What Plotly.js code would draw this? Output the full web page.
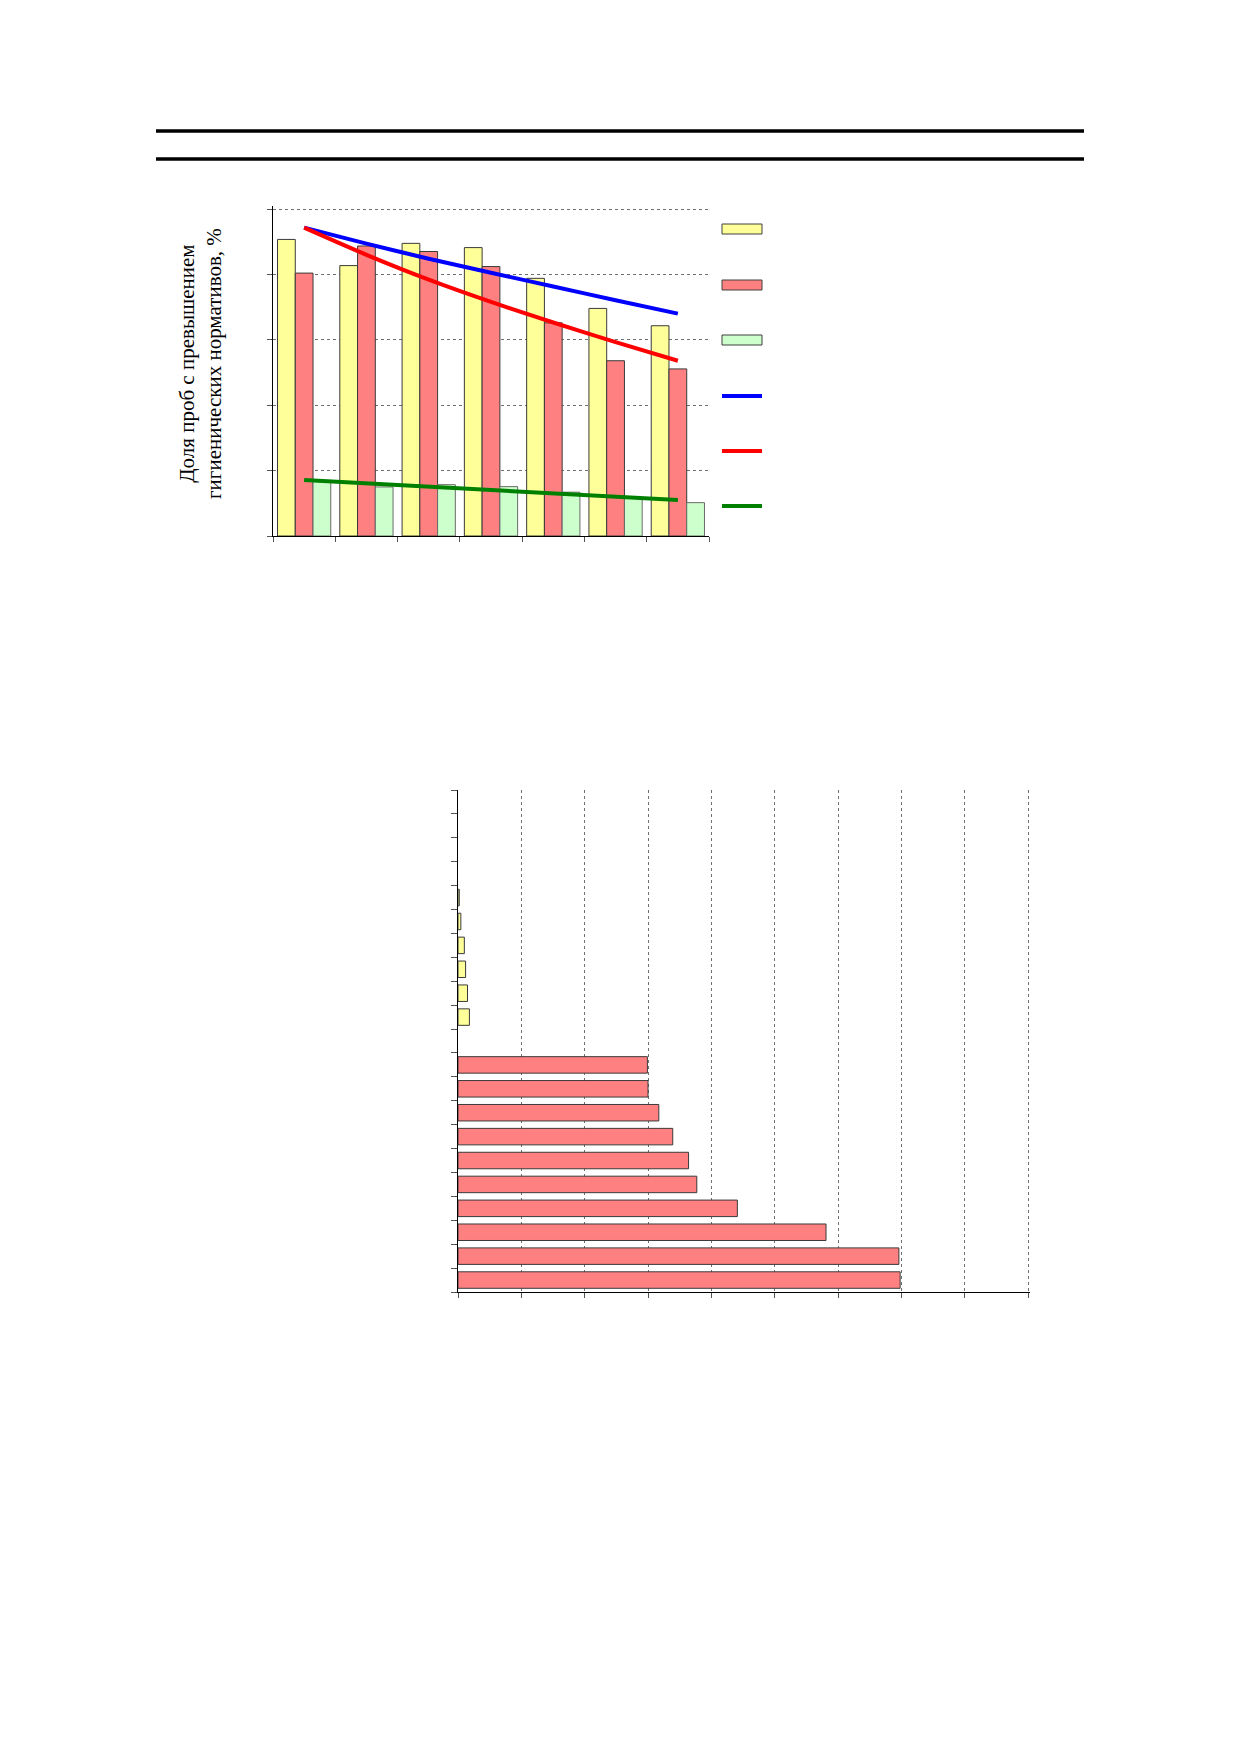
<!DOCTYPE html>
<html>
<head>
<meta charset="utf-8">
<script src="https://cdn.plot.ly/plotly-3.0.1.min.js"></script>
<style>
  html, body { margin: 0; padding: 0; background: #fff; }
  #page { width: 1239px; height: 1752px; }
</style>
</head>
<body>
<div id="page"></div>
<script>
// Chart 1: share of samples over the hygienic norms, 7 periods, 3 groups of samples
var groups = ['1', '2', '3', '4', '5', '6', '7'];
var yellowShare = [90.7, 82.7, 89.5, 88.2, 78.8, 69.6, 64.3];
var redShare = [80.4, 88.7, 87.0, 82.4, 65.2, 53.6, 51.1];
var greenShare = [17.0, 15.0, 15.7, 15.1, 13.4, 11.7, 10.2];
// trend lines at each period
var blueTrend = [94.3, 89.4, 84.8, 80.5, 76.3, 72.1, 68.0];
var redTrend = [94.3, 86.0, 78.4, 71.6, 65.3, 59.3, 53.6];
var greenTrend = [17.1, 16.1, 15.1, 14.1, 13.0, 12.0, 11.0];

// Chart 2: horizontal bars, rows listed from bottom to top
var rows = ['r1', 'r2', 'r3', 'r4', 'r5', 'r6', 'r7', 'r8', 'r9', 'r10', 'r11',
            'r12', 'r13', 'r14', 'r15', 'r16', 'r17', 'r18', 'r19', 'r20', 'r21'];
var redRows = ['r1', 'r2', 'r3', 'r4', 'r5', 'r6', 'r7', 'r8', 'r9', 'r10'];
var redLen = [69.8, 69.6, 58.1, 44.1, 37.7, 36.4, 33.9, 31.7, 30.0, 29.9];
var yellowRows = ['r12', 'r13', 'r14', 'r15', 'r16', 'r17'];
var yellowLen = [1.8, 1.5, 1.2, 1.0, 0.45, 0.2];

var W = 1239, H = 1752;
function px(x) { return x / W; }
function py(y) { return 1 - y / H; }

var YELLOW = '#FFFF99', RED = '#FF8080', GREEN = '#CCFFCC';
var edge = { color: '#3a3a3a', width: 1 };

var traces = [
    { type: 'bar', x: groups, y: yellowShare, marker: { color: YELLOW, line: edge }, xaxis: 'x', yaxis: 'y' },
    { type: 'bar', x: groups, y: redShare, marker: { color: RED, line: edge }, xaxis: 'x', yaxis: 'y' },
    { type: 'bar', x: groups, y: greenShare, marker: { color: GREEN, line: { color: '#6a6a6a', width: 1 } }, xaxis: 'x', yaxis: 'y' },
    { type: 'scatter', mode: 'lines', x: groups, y: blueTrend, line: { color: '#0000FF', width: 4, shape: 'spline', smoothing: 0.8 }, xaxis: 'x', yaxis: 'y' },
    { type: 'scatter', mode: 'lines', x: groups, y: redTrend, line: { color: '#FF0000', width: 4, shape: 'spline', smoothing: 0.8 }, xaxis: 'x', yaxis: 'y' },
    { type: 'scatter', mode: 'lines', x: groups, y: greenTrend, line: { color: '#008000', width: 4 }, xaxis: 'x', yaxis: 'y' },

    { type: 'bar', orientation: 'h', y: redRows, x: redLen, width: 0.69, offsetgroup: 'h',
      marker: { color: RED, line: edge }, xaxis: 'x2', yaxis: 'y2' },
    { type: 'bar', orientation: 'h', y: yellowRows, x: yellowLen, width: 0.69, offsetgroup: 'h',
      marker: { color: YELLOW, line: edge }, xaxis: 'x2', yaxis: 'y2' }
];

// page rules at the top and the legend swatches (legend has no text in the picture)
var shapes = [
    { type: 'line', xref: 'paper', yref: 'paper', x0: px(156), x1: px(1084), y0: py(131), y1: py(131), line: { color: '#000', width: 3.5 } },
    { type: 'line', xref: 'paper', yref: 'paper', x0: px(156), x1: px(1084), y0: py(159), y1: py(159), line: { color: '#000', width: 3.5 } }
];
var swatchFill = [YELLOW, RED, GREEN];
var swatchY = [229, 285, 340];
swatchFill.forEach(function (c, i) {
    shapes.push({ type: 'rect', xref: 'paper', yref: 'paper', x0: px(722), x1: px(762),
        y0: py(swatchY[i] + 5), y1: py(swatchY[i] - 5), fillcolor: c, line: { color: '#404040', width: 1 } });
});
var lineColors = ['#0000FF', '#FF0000', '#008000'];
var lineY = [396, 451, 506];
lineColors.forEach(function (c, i) {
    shapes.push({ type: 'line', xref: 'paper', yref: 'paper', x0: px(722), x1: px(762),
        y0: py(lineY[i]), y1: py(lineY[i]), line: { color: c, width: 4 } });
});

var layout = {
    width: W, height: H,
    margin: { l: 0, r: 0, t: 0, b: 0 },
    paper_bgcolor: '#fff', plot_bgcolor: 'rgba(0,0,0,0)',
    showlegend: false,
    barmode: 'group', bargap: 0.145, bargroupgap: 0,
    xaxis: {
        domain: [px(273), px(709)], anchor: 'y',
        type: 'category', showticklabels: false, tickson: 'boundaries',
        ticks: 'outside', ticklen: 5, tickcolor: '#555',
        showline: true, linecolor: '#000', linewidth: 1, showgrid: false, zeroline: false
    },
    yaxis: {
        // a little headroom above 100 so the top grid line is drawn
        domain: [py(536), py(206.4)], anchor: 'x',
        range: [0, 100.8], tickvals: [0, 20, 40, 60, 80, 100], showticklabels: false,
        ticks: 'outside', ticklen: 5, tickcolor: '#555',
        showline: true, linecolor: '#000', linewidth: 1,
        showgrid: true, gridcolor: '#707070', griddash: 'dot', gridwidth: 1, zeroline: false
    },
    xaxis2: {
        domain: [px(458), px(1030)], anchor: 'y2',
        range: [0, 90.3], tickvals: [0, 10, 20, 30, 40, 50, 60, 70, 80, 90], showticklabels: false,
        ticks: 'outside', ticklen: 5, tickcolor: '#555',
        showline: true, linecolor: '#000', linewidth: 1,
        showgrid: true, gridcolor: '#707070', griddash: 'dot', gridwidth: 1, zeroline: false
    },
    yaxis2: {
        domain: [py(1292), py(790)], anchor: 'x2',
        type: 'category', categoryorder: 'array', categoryarray: rows, range: [-0.5, 20.5],
        showticklabels: false, tickson: 'boundaries',
        ticks: 'outside', ticklen: 6, tickcolor: '#555',
        showline: true, linecolor: '#000', linewidth: 1, showgrid: false, zeroline: false
    },
    shapes: shapes,
    annotations: [{
        xref: 'paper', yref: 'paper', x: px(200), y: py(364),
        xanchor: 'center', yanchor: 'middle', textangle: -90, showarrow: false,
        text: 'Доля проб с превышением<br>гигиенических нормативов, %',
        font: { family: 'Liberation Serif, Times New Roman, serif', size: 21, color: '#000' }
    }]
};

Plotly.newPlot('page', traces, layout, { staticPlot: true });
</script>
</body>
</html>
